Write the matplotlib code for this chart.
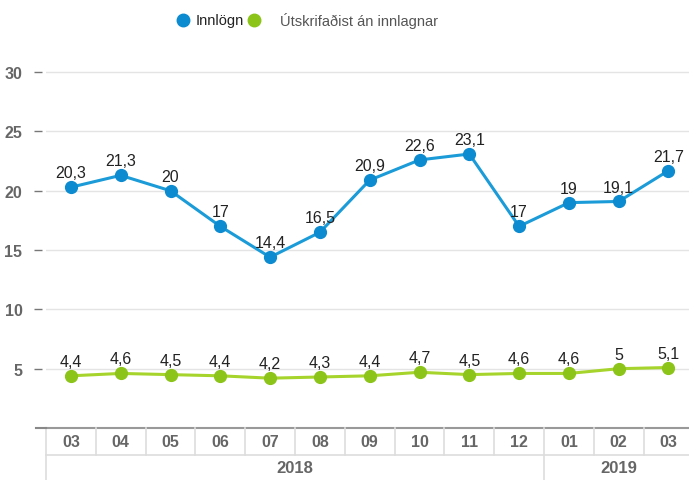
import matplotlib
matplotlib.use("Agg")
import matplotlib.pyplot as plt
from matplotlib.lines import Line2D
import matplotlib.transforms as mtransforms

plt.rcParams['font.family'] = ['Liberation Sans', 'DejaVu Sans']

months = ["03", "04", "05", "06", "07", "08", "09", "10", "11", "12", "01", "02", "03"]
years = ["2018", "2019"]
year_spans = [(0, 9), (10, 12)]
innlogn = [20.3, 21.3, 20, 17, 14.4, 16.5, 20.9, 22.6, 23.1, 17, 19, 19.1, 21.7]
utskrifad = [4.4, 4.6, 4.5, 4.4, 4.2, 4.3, 4.4, 4.7, 4.5, 4.6, 4.6, 5, 5.1]
yticks = [5, 10, 15, 20, 25, 30]

BLUE_LINE, BLUE_DOT = "#1b9bd7", "#0c8bd0"
GREEN_LINE, GREEN_DOT = "#a6d42c", "#8cc41a"
TXT = "#666666"

W, H = 689, 481
fig = plt.figure(figsize=(W / 100, H / 100), dpi=100)
left_px, bottom_px, top_px = 46, 429, 61.3
ax = fig.add_axes([left_px / W, 1 - bottom_px / H, 1 - left_px / W, (bottom_px - top_px) / H])
col_w = 49.8
ax.set_xlim(-0.5, -0.5 + (W - left_px) / col_w)
ax.set_ylim(0, 31)

# spine position first: moving it resets the ticks
for s in ax.spines.values():
    s.set_visible(False)
ax.spines['left'].set_position(('outward', 3))

x = list(range(len(months)))
for vals, lc, mc in [(innlogn, BLUE_LINE, BLUE_DOT), (utskrifad, GREEN_LINE, GREEN_DOT)]:
    ax.plot(x, vals, color=lc, lw=2.2, marker="o", ms=8.5, mfc=mc, mec=mc, zorder=3, clip_on=False)
    for xi, v in zip(x, vals):
        lab = f"{v:g}".replace(".", ",")
        ax.annotate(lab, (xi, v), xytext=(0, 5), textcoords="offset points",
                    ha="center", va="bottom", fontsize=11.5, color="#222222", zorder=4)

ax.set_yticks(yticks)
ax.set_yticklabels([str(t) for t in yticks], fontsize=11.5, fontweight="bold", color=TXT)
ax.grid(axis="y", color="#e4e4e4", lw=1)
ax.set_axisbelow(True)
ax.tick_params(axis="y", length=6, width=1, color="#777777", pad=8)
ax.set_xticks([])

# category table below the plot
tr = mtransforms.blended_transform_factory(ax.transData, ax.transAxes)
ax_h = bottom_px - top_px
r1 = -27 / ax_h
r2 = -60 / ax_h
line_kw = dict(transform=tr, clip_on=False)
ax.add_line(Line2D([-0.5, 13], [0, 0], color="#999999", lw=1.5, **line_kw))
ax.add_line(Line2D([-0.5, 13], [r1, r1], color="#dddddd", lw=1.2, **line_kw))
for b in range(len(months) + 1):
    ax.add_line(Line2D([b - 0.5, b - 0.5], [0, r1], color="#dddddd", lw=1.2, **line_kw))
for a, b in year_spans:
    ax.add_line(Line2D([a - 0.5, a - 0.5], [r1, r2], color="#dddddd", lw=1.2, **line_kw))
for xi, m in zip(x, months):
    ax.text(xi, r1 / 2, m, transform=tr, ha="center", va="center",
            fontsize=11.5, fontweight="bold", color=TXT)
for (a, b), yr in zip(year_spans, years):
    ax.text((a + b) / 2, r1 - 12.5 / ax_h, yr, transform=tr, ha="center", va="center",
            fontsize=12, fontweight="bold", color=TXT)
# small mark at zero level left of the axis
fig.add_artist(Line2D([36 / W, left_px / W], [1 - bottom_px / H] * 2, color="#888888", lw=1.5))

# legend at the top
fig.add_artist(Line2D([183 / W], [1 - 21 / H], marker="o", ms=9, color=BLUE_DOT, lw=0))
fig.text(196 / W, 1 - 21 / H, "Innlögn", ha="left", va="center", fontsize=10.5, color="#222222")
fig.add_artist(Line2D([254 / W], [1 - 21 / H], marker="o", ms=9, color=GREEN_DOT, lw=0))
fig.text(280 / W, 1 - 21 / H, "Útskrifaðist án innlagnar", ha="left", va="center",
         fontsize=10.5, color="#555555")

fig.savefig("out.png", dpi=100)
